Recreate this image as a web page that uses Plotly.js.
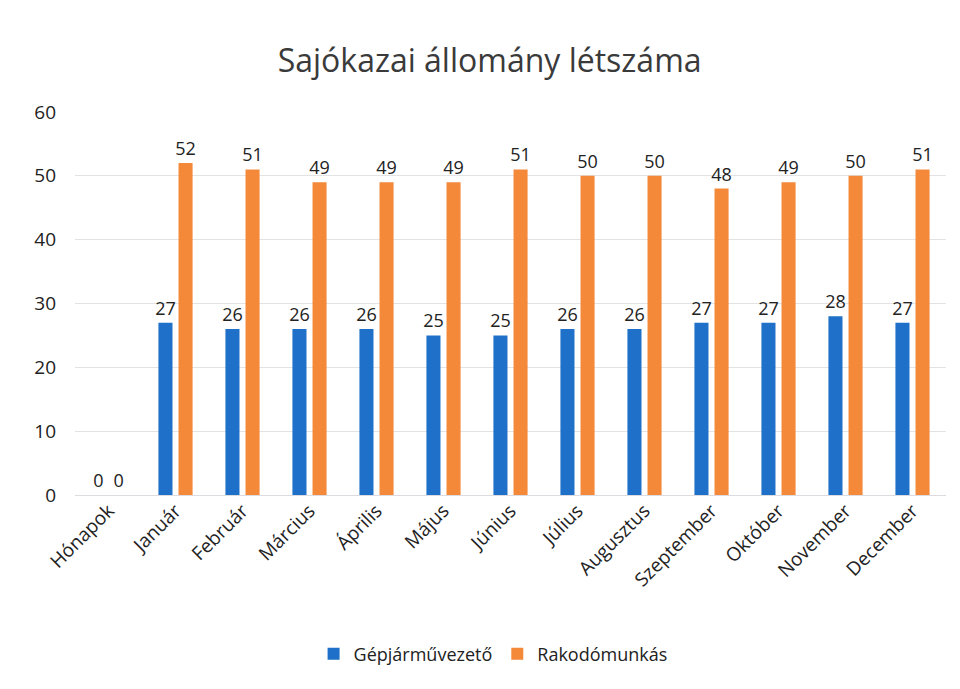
<!DOCTYPE html>
<html><head><meta charset="utf-8">
<script src="https://cdn.plot.ly/plotly-3.0.1.min.js"></script>
<style>html,body{margin:0;padding:0;background:#fff;}#chart{width:960px;height:689px;}</style>
</head><body><div id="chart"></div>
<script>
const categories = ["Hónapok","Január","Február","Március","Április","Május","Június","Július","Augusztus","Szeptember","Október","November","December"];
const gepjarmuvezeto = [0,27,26,26,26,25,25,26,26,27,27,28,27];
const rakodomunkas = [0,52,51,49,49,49,51,50,50,48,49,50,51];
const seriesNames = ["Gépjárművezető","Rakodómunkás"];
const yTicks = [0,10,20,30,40,50,60];

const font = "Open Sans, Noto Sans, sans-serif";
const common = {type:"bar", x:categories, textposition:"outside", texttemplate:"%{y}",
  constraintext:"none",
  textfont:{family:font,size:18,color:"#222"}, cliponaxis:false, hoverinfo:"x+y+name"};
const data = [
  Object.assign({}, common, {name:seriesNames[0], y:gepjarmuvezeto, marker:{color:"#1f70c8"}}),
  Object.assign({}, common, {name:seriesNames[1], y:rakodomunkas, marker:{color:"#f5893a"}})
];
const layout = {
  width:960, height:689,
  margin:{l:75,r:14,t:112,b:194},
  paper_bgcolor:"#fff", plot_bgcolor:"#fff",
  title:{text:"Sajókazai állomány létszáma", x:0.51, xref:"container", y:0.912, yanchor:"middle",
    font:{family:font,size:32,color:"#3a3a3a"}},
  barmode:"group", bargap:0.40, bargroupgap:0.3,
  xaxis:{type:"category", tickangle:-45, tickfont:{family:font,size:19,color:"#222"},
    showgrid:false, showline:false, ticks:"", automargin:false},
  yaxis:{range:[0,60], tickvals:yTicks, showgrid:true, gridcolor:"#e3e3e6", gridwidth:1,
    zeroline:true, zerolinecolor:"#dcdce0", tickfont:{family:font,size:19,color:"#222"},
    ticks:"", ticklabelstandoff:18, automargin:false, showline:false},
  showlegend:true,
  legend:{orientation:"h", x:0.48, xanchor:"center", y:-0.415, yanchor:"middle",
    font:{family:font,size:18,color:"#222"}, itemwidth:20, traceorder:"normal"}
};
Plotly.newPlot("chart", data, layout, {displayModeBar:false, staticPlot:true});
</script></body></html>
